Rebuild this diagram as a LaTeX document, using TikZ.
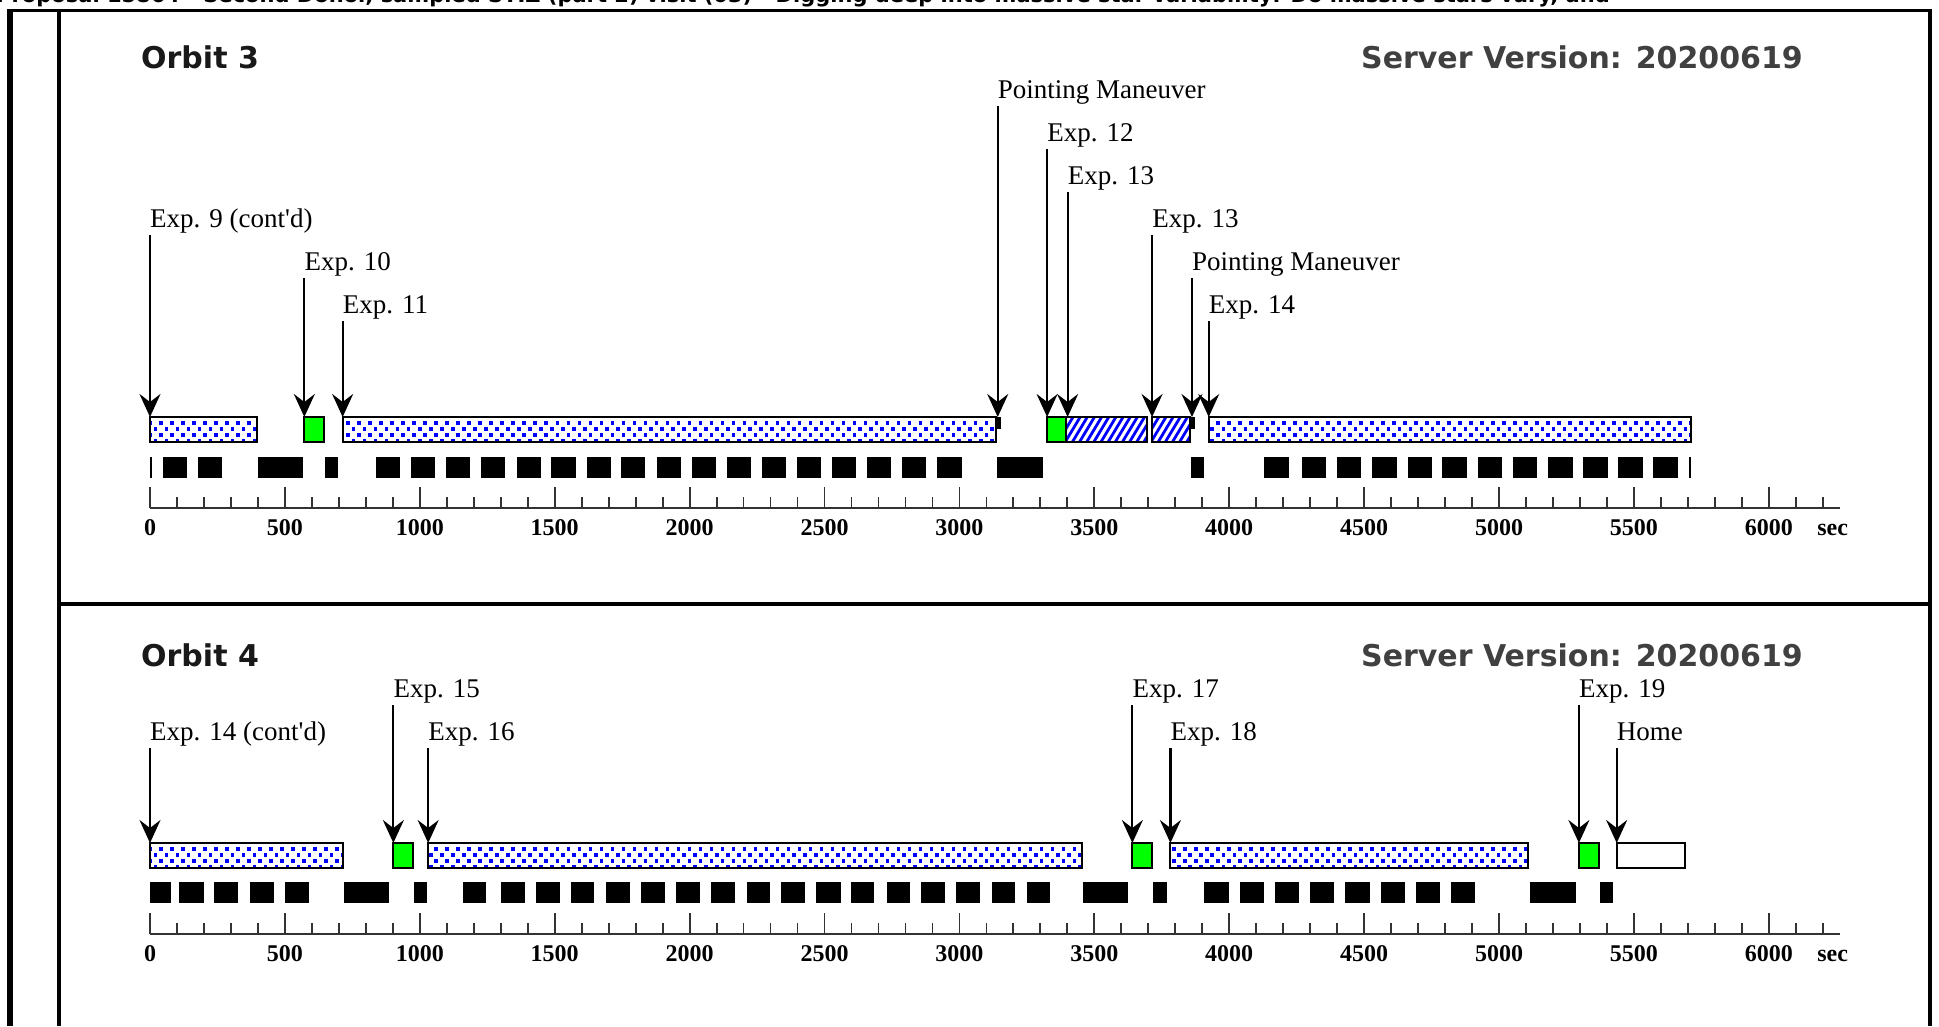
\documentclass[tikz,border=0pt]{standalone}
\usepackage{fontspec}
\setmainfont{Liberation Serif}[Ligatures=TeXOff]
\newfontfamily\hdfont{DejaVu Sans}
\usetikzlibrary{arrows.meta}

\newcommand\dotsbox[3]{%
  \begin{scope}
    \clip (#1,#3) rectangle (#2,#3+25);
    \pgfmathtruncatemacro\dka{floor(#1/20.4)-1}%
    \pgfmathtruncatemacro\dkb{ceil(#2/20.4)+1}%
    \foreach \k in {\dka,...,\dkb}{%
      \pgfmathsetmacro\tq{\k*20.4}%
      \ifodd\k
        \foreach \dy in {-0.5,11.8,24.1}{\fill[dotc] (\tq,#3+\dy) ++(-1.8pt,-1.8pt) rectangle ++(3.6pt,3.6pt);}%
      \else
        \foreach \dy in {5.7,18}{\fill[dotc] (\tq,#3+\dy) ++(-1.8pt,-1.8pt) rectangle ++(3.6pt,3.6pt);}%
      \fi
    }%
  \end{scope}%
  \draw[boxline] (#1,#3) rectangle (#2,#3+25);}

\newcommand\hatchbox[3]{%
  \begin{scope}
    \clip (#1,#3) rectangle (#2,#3+25);
    \pgfmathtruncatemacro\hka{floor((#1-70)/26.5)}%
    \pgfmathtruncatemacro\hkb{ceil(#2/26.5)}%
    \foreach \k in {\hka,...,\hkb}{\draw[hatchc] (\k*26.5,#3+25) -- ++(15pt,25pt);}%
  \end{scope}%
  \draw[boxline] (#1,#3) rectangle (#2,#3+25);}

\newcommand\greenbox[3]{\draw[grn] (#1,#3) rectangle (#2,#3+25);}

\newcommand\timeaxis[2]{% #1 axis y, #2 name prefix
  \draw[axisl] (0,#1) -- (6264,#1);
  \foreach \t in {0,100,...,6200} \draw[tickl] (\t,#1) -- (\t,#1-11);
  \foreach \t in {0,500,...,6000} {\draw[tickl] (\t,#1) -- (\t,#1-21);
    \node[num] (#2\t) at (\t,#1+27) {\t};}
  \node[num, anchor=base west] (#2sec) at (6179,#1+27) {sec};}

\begin{document}
\begin{tikzpicture}[x=1pt,y=-1pt,
  frame/.style={line width=3.5pt, black},
  boxline/.style={line width=2pt, black},
  lbl/.style={anchor=base west, inner sep=0pt, font=\fontsize{27}{30}\selectfont},
  num/.style={anchor=base, inner sep=0pt, font=\bfseries\fontsize{24}{27}\selectfont},
  arr/.style={line width=2.2pt, -{Stealth[length=23pt,width=21pt,inset=8pt]}},
  ttl/.style={anchor=base west, inner sep=0pt, font=\hdfont\bfseries\fontsize{30}{32}\selectfont, text=black!90},
  srv/.style={anchor=base east, inner sep=0pt, font=\hdfont\bfseries\fontsize{30}{32}\selectfont, text=black!75},
  axisl/.style={line width=2.5pt, black!80},
  tickl/.style={line width=1.8pt, black!80},
  blk/.style={fill=black},
  grn/.style={fill=green, draw=black, line width=2pt},
  dotc/.style={fill=blue},
  hatchc/.style={draw=blue, line width=2.8pt},
]
\useasboundingbox (0,0) rectangle (1939,1026);
\begin{scope}
\clip (0,0) rectangle (1939,1026);
\node[anchor=base west, inner sep=0pt, font=\hdfont\bfseries\fontsize{21}{23}\selectfont] (hdr) at (-4,2)
  {Proposal 15864 - Second Donor, sampled STIZ (part 2) visit (03) - Digging deep into massive star variability: Do massive stars vary, and};
\end{scope}

% frame
\fill[white] (7,12) rectangle (1932,1026);
\draw[line width=6pt] (10,9) -- (10,1026);
\draw[frame] (7,10.5) -- (1932,10.5);
\draw[frame] (59,10.5) -- (59,1026);
\draw[frame] (1930,9) -- (1930,1026);
\draw[frame] (59,604) -- (1930,604);

% titles
\node[ttl] (o3) at (141,68) {Orbit 3};
\node[srv] (s3) at (1803,68) {Server Version: 20200619};
\node[ttl] (o4) at (141,666) {Orbit 4};
\node[srv] (s4) at (1803,666) {Server Version: 20200619};

\begin{scope}[x=0.2698pt, xshift=150pt]
% ---------- Orbit 3 ----------
\dotsbox{0}{396}{417}
\greenbox{572}{646}{417}
\dotsbox{714}{3137}{417}
\fill[black] (3137,417) rectangle (3153,429);
\greenbox{3325}{3394}{417}
\hatchbox{3394}{3696}{417}
\hatchbox{3714}{3856}{417}
\fill[black] (3856,417) rectangle (3872,429);
\dotsbox{3924}{5711}{417}

\foreach \a/\b in {0/8,50/137,177/268,401/568,649/697,839/927,969/1058,1098/1187,1228/1316,1359/1449,1488/1578,1618/1707,1747/1836,1879/1969,2008/2098,2139/2227,2268/2358,2397/2487,2528/2616,2657/2746,2788/2877,2917/3008,3138/3308,3858/3908,4130/4220,4268/4359,4400/4490,4530/4621,4661/4750,4790/4881,4921/5010,5052/5142,5182/5273,5312/5403,5442/5532,5572/5662,5703/5712}
  \fill[blk] (\a,457) rectangle (\b,478);

\timeaxis{508}{x3-}

\foreach \t/\lv/\tx/\nm in {0/227/{Exp. 9 (cont'd)}/e9, 572/270/{Exp. 10}/e10, 714/313/{Exp. 11}/e11,
   3142/98/{Pointing Maneuver}/pm1, 3325/141/{Exp. 12}/e12, 3401/184/{Exp. 13}/e13a,
   3714/227/{Exp. 13}/e13b, 3862/270/{Pointing Maneuver}/pm2, 3924/313/{Exp. 14}/e14}
{
  \node[lbl] (\nm) at (\t,\lv) {\tx};
  \coordinate (\nm-tip) at (\t,417);
  \draw[arr] ([yshift=-8pt]\nm.base west) -- (\nm-tip);
}

% ---------- Orbit 4 ----------
\dotsbox{0}{715}{843}
\greenbox{902}{974}{843}
\dotsbox{1031}{3456}{843}
\greenbox{3641}{3713}{843}
\dotsbox{3782}{5108}{843}
\greenbox{5296}{5370}{843}
\draw[boxline, fill=white] (5436,843) rectangle (5689,868);

\foreach \a/\b in {0/79,108/199,237/326,369/459,500/588,720/886,980/1026,1159/1247,1300/1389,1429/1518,1560/1647,1690/1780,1820/1909,1949/2038,2080/2169,2211/2298,2339/2429,2470/2560,2599/2685,2730/2818,2859/2947,2988/3078,3119/3207,3249/3336,3459/3626,3719/3769,3908/3998,4039/4127,4170/4260,4301/4389,4430/4520,4561/4651,4692/4780,4821/4911,5114/5284,5373/5423}
  \fill[blk] (\a,882) rectangle (\b,903);

\timeaxis{934}{x4-}

\foreach \t/\lv/\tx/\nm in {0/740/{Exp. 14 (cont'd)}/f14, 902/697/{Exp. 15}/f15, 1031/740/{Exp. 16}/f16,
   3641/697/{Exp. 17}/f17, 3782/740/{Exp. 18}/f18, 5296/697/{Exp. 19}/f19, 5436/740/{Home}/fh}
{
  \node[lbl] (\nm) at (\t,\lv) {\tx};
  \coordinate (\nm-tip) at (\t,843);
  \draw[arr] ([yshift=-8pt]\nm.base west) -- (\nm-tip);
}
\end{scope}
\end{tikzpicture}
\end{document}
